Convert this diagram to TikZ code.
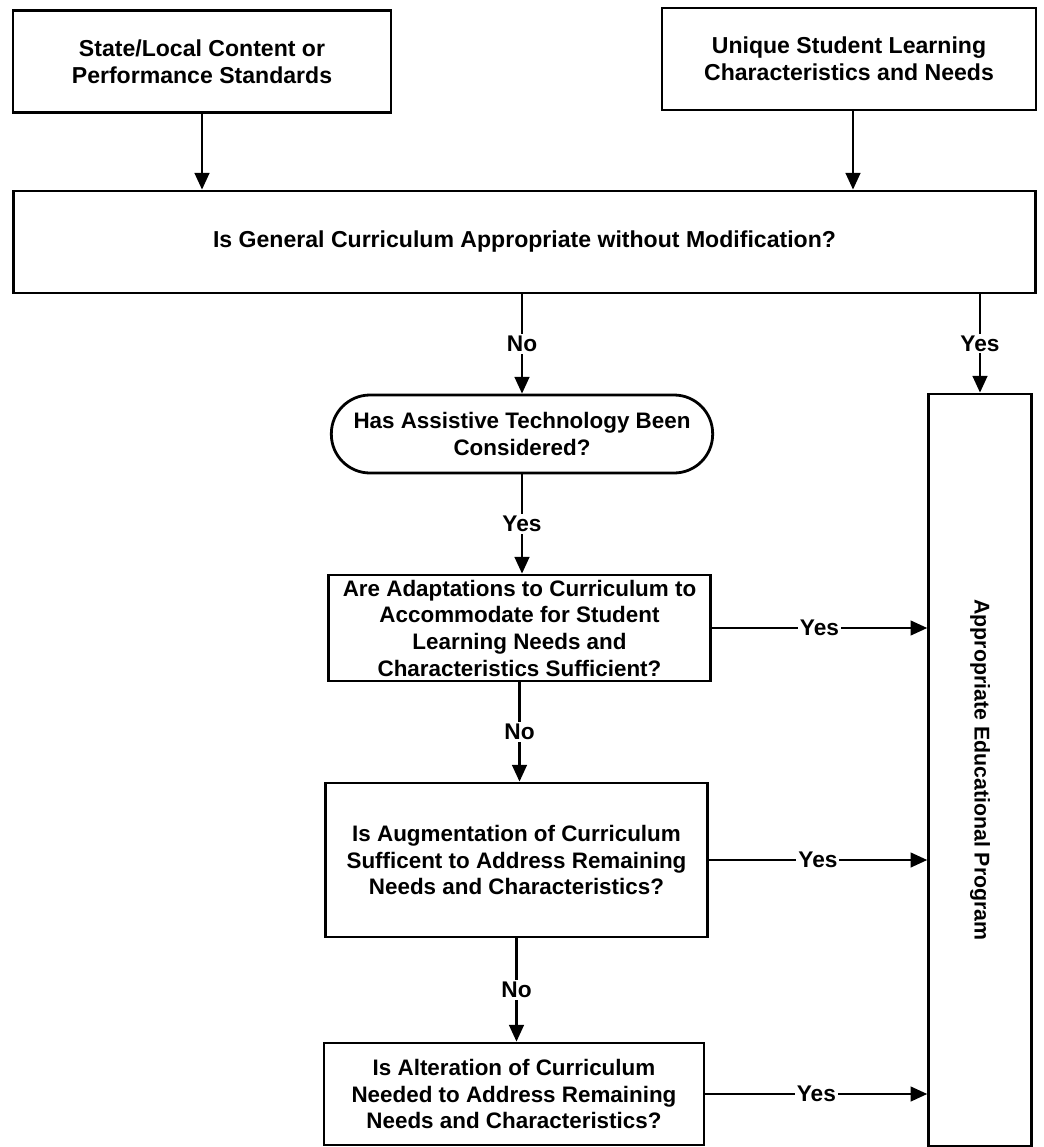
\documentclass[tikz,border=0pt]{standalone}
\usepackage{fontspec}
\setmainfont{Liberation Sans}
\usetikzlibrary{arrows.meta}

\begin{document}
\begin{tikzpicture}[x=0.75pt,y=-0.75pt,
    box/.style={draw, line width=2.1pt, align=center, inner sep=0pt,
        font=\bfseries\fontsize{16.8}{20}\selectfont},
    topbox/.style={box, font=\bfseries\fontsize{17.3}{20}\selectfont},
    flow/.style={line width=1.7pt, -{Triangle[length=12.5pt,width=11pt]}},
    lbl/.style={fill=white, inner sep=1.5pt, font=\bfseries\fontsize{17}{20}\selectfont}]
    \useasboundingbox (0,0) rectangle (1044,1147);

    % inputs
    \node[topbox, minimum width=283.5pt, minimum height=77pt] (std) at (202,61.5)
        {State/Local Content or\\Performance Standards};
    \node[topbox, minimum width=280.5pt, minimum height=76.5pt] (uniq) at (849,59)
        {Unique Student Learning\\Characteristics and Needs};
    \node[topbox, minimum width=767pt, minimum height=76.5pt] (gen) at (524.5,242)
        {Is General Curriculum Appropriate without Modification?};

    % questions
    \node[box, rounded corners=29pt, minimum width=286pt, minimum height=58.5pt] (atech) at (522,434)
        {Has Assistive Technology Been\\Considered?};
    \node[box, minimum width=286pt, minimum height=79.5pt] (adapt) at (519.5,628)
        {Are Adaptations to Curriculum to\\Accommodate for Student\\Learning Needs and\\Characteristics Sufficient?};
    \node[box, minimum width=286pt, minimum height=115.5pt] (augm) at (516.5,860)
        {Is Augmentation of Curriculum\\Sufficent to Address Remaining\\Needs and Characteristics?};
    \node[box, minimum width=285pt, minimum height=76.5pt] (alter) at (514,1094)
        {Is Alteration of Curriculum\\Needed to Address Remaining\\Needs and Characteristics?};

    % outcome
    \node[box, minimum width=77pt, minimum height=564pt] (prog) at (980,770)
        {};
    \node[rotate=-90, font=\bfseries\fontsize{16}{20}\selectfont] (progtxt) at (980,770)
        {Appropriate Educational Program};

    \draw[flow] (std.south) -- (std.south |- gen.north);
    \draw[flow] (uniq.south) ++(4,0) coordinate (uniqs) -- (uniqs |- gen.north);

    \draw[flow] (gen.south -| atech.north) -- node[lbl] {No} (atech.north);
    \draw[flow] (gen.south -| prog.north) -- node[lbl] {Yes} (prog.north);
    \draw[flow] (atech.south) -- node[lbl] {Yes} (atech.south |- adapt.north);
    \draw[flow] (adapt.south) -- node[lbl] {No} (adapt.south |- augm.north);
    \draw[flow] (augm.south) -- node[lbl] {No} (augm.south |- alter.north);

    \draw[flow] (adapt.east) -- node[lbl] {Yes} (adapt.east -| prog.west);
    \draw[flow] (augm.east) -- node[lbl] {Yes} (augm.east -| prog.west);
    \draw[flow] (alter.east) -- node[lbl] {Yes} (alter.east -| prog.west);
\end{tikzpicture}
\end{document}
